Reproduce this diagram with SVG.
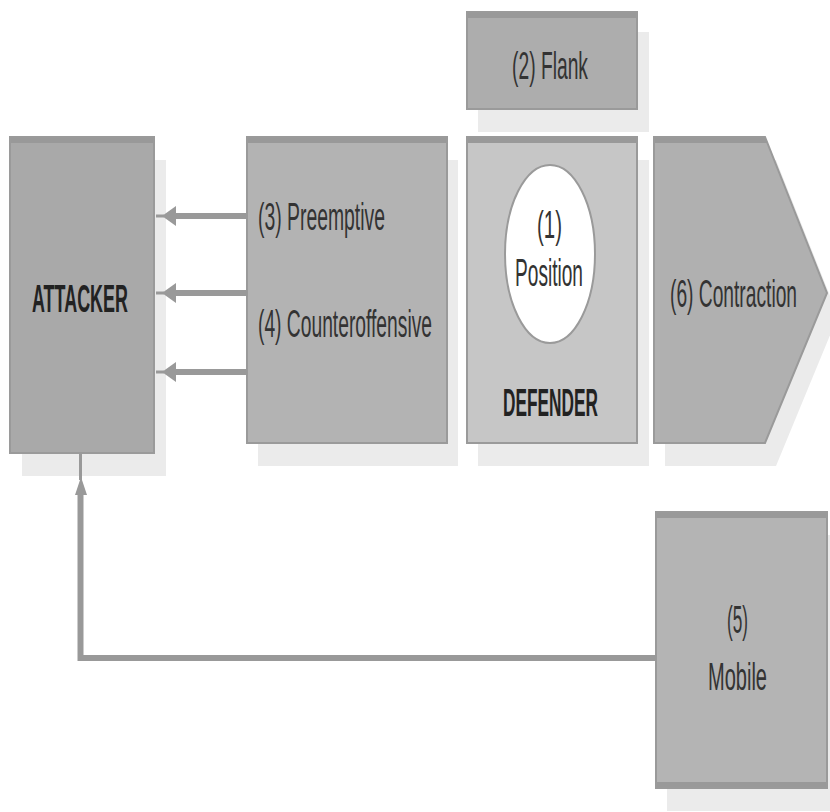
<svg xmlns="http://www.w3.org/2000/svg" width="830" height="812" viewBox="0 0 830 812">
  <style>
    .shadow { fill: #ebebeb; }
    .box { stroke: #9a9a9a; stroke-width: 2; }
    .band { fill: #999999; }
    .lbl { font-family: "Liberation Sans Narrow", "Liberation Sans", Arial, sans-serif; font-size: 38px; fill: #333333; }
    .bold { font-weight: bold; fill: #222222; }
    .wire { fill: none; stroke: #999999; stroke-linecap: butt; }
    .head { fill: #999999; }
  </style>

  <rect width="830" height="812" fill="#ffffff"/>

  <!-- drop shadows -->
  <g id="shadows">
    <rect class="shadow" x="22" y="160" width="144" height="316"/>
    <rect class="shadow" x="258" y="160" width="200" height="306"/>
    <rect class="shadow" x="478" y="32" width="171" height="100"/>
    <rect class="shadow" x="478" y="160" width="171" height="306"/>
    <polygon class="shadow" points="665,160 776,160 838,316 776,466 665,466"/>
    <rect class="shadow" x="667" y="535" width="171" height="276"/>
  </g>

  <g id="attacker">
    <rect class="box" x="10" y="137" width="144" height="316" fill="#a9a9a9"/>
    <rect class="band" x="11" y="138" width="142" height="5"/>
    <text class="lbl bold" x="32" y="312" textLength="96" lengthAdjust="spacingAndGlyphs">ATTACKER</text>
  </g>

  <g id="preemptive">
    <rect class="box" x="247" y="137" width="200" height="306" fill="#b3b3b3"/>
    <rect class="band" x="248" y="138" width="198" height="5"/>
    <text class="lbl" x="258" y="230" textLength="127" lengthAdjust="spacingAndGlyphs">(3) Preemptive</text>
    <text class="lbl" x="258" y="337" textLength="174" lengthAdjust="spacingAndGlyphs">(4) Counteroffensive</text>
  </g>

  <g id="flank">
    <rect class="box" x="467" y="12" width="170" height="97" fill="#adadad"/>
    <rect class="band" x="468" y="13" width="168" height="5"/>
    <text class="lbl" x="512" y="79" textLength="76" lengthAdjust="spacingAndGlyphs">(2) Flank</text>
  </g>

  <g id="defender">
    <rect class="box" x="467" y="137" width="170" height="306" fill="#c6c6c6"/>
    <rect class="band" x="468" y="138" width="168" height="5" fill="#acacac"/>
    <ellipse cx="550" cy="254" rx="45" ry="89" fill="#ffffff" stroke="#9a9a9a" stroke-width="2"/>
    <text class="lbl" x="537" y="238" textLength="25" lengthAdjust="spacingAndGlyphs">(1)</text>
    <text class="lbl" x="515" y="286" textLength="68" lengthAdjust="spacingAndGlyphs">Position</text>
    <text class="lbl bold" x="503" y="416" textLength="95" lengthAdjust="spacingAndGlyphs">DEFENDER</text>
  </g>

  <g id="contraction">
    <polygon class="box" points="654,137 765,137 827,293 765,443 654,443" fill="#b0b0b0"/>
    <polygon class="band" points="655,138 765,138 767,143 655,143"/>
    <!-- label narrowed horizontally so it stays inside the arrow shape -->
    <g transform="translate(670,307) scale(0.6,1)">
      <text class="lbl" x="0" y="0" textLength="211.7" lengthAdjust="spacingAndGlyphs">(6) Contraction</text>
    </g>
  </g>

  <g id="mobile">
    <rect class="box" x="656" y="512" width="171" height="276" fill="#b4b4b4"/>
    <rect class="band" x="657" y="513" width="169" height="5"/>
    <rect class="band" x="657" y="782" width="169" height="5"/>
    <text class="lbl" x="727" y="633" textLength="21" lengthAdjust="spacingAndGlyphs">(5)</text>
    <text class="lbl" x="708" y="690" textLength="59" lengthAdjust="spacingAndGlyphs">Mobile</text>
  </g>

  <g id="connectors">
    <!-- preemptive / counteroffensive strikes toward the attacker -->
    <line class="wire" x1="247" y1="216" x2="172" y2="216" stroke-width="6"/>
    <polygon class="head" points="176,206 176,226 162,216"/>
    <line class="wire" x1="164" y1="216" x2="156" y2="216" stroke-width="3"/>

    <line class="wire" x1="247" y1="293" x2="172" y2="293" stroke-width="6"/>
    <polygon class="head" points="176,283 176,303 162,293"/>
    <line class="wire" x1="164" y1="293" x2="156" y2="293" stroke-width="3"/>

    <line class="wire" x1="247" y1="372" x2="172" y2="372" stroke-width="6"/>
    <polygon class="head" points="176,362 176,382 162,372"/>
    <line class="wire" x1="164" y1="372" x2="156" y2="372" stroke-width="3"/>

    <!-- mobile defence loops round to the attacker's rear -->
    <polyline class="wire" points="656,658 80.5,658 80.5,492" stroke-width="6"/>
    <polygon class="head" points="75,495 87,495 81,477"/>
    <line class="wire" x1="80.5" y1="480" x2="80.5" y2="454" stroke-width="3"/>
  </g>
</svg>
